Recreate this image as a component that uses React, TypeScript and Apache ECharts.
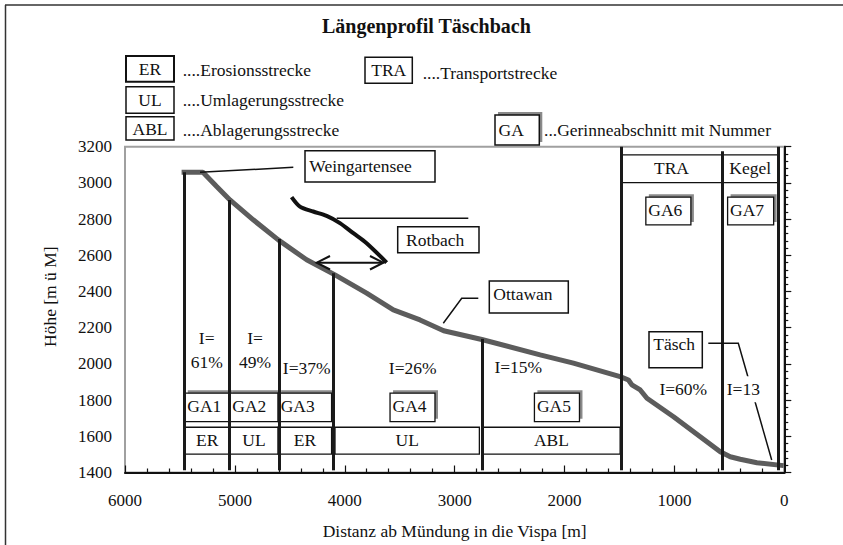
import React, { useEffect, useRef } from 'react';
import * as echarts from 'echarts';

// ---------- data ----------
const profileDist = [5485, 5291, 5166, 5045, 4833, 4605, 4347, 4089, 3801, 3558, 3315, 3100, 2753, 2222, 1919, 1494, 1418, 1387, 1311, 1250, 1008, 583, 492, 401, 249, 6];
const profileHeight = [3059, 3059, 2980, 2906, 2796, 2685, 2575, 2492, 2391, 2298, 2243, 2183, 2135, 2050, 2004, 1930, 1911, 1884, 1856, 1810, 1708, 1515, 1487, 1473, 1454, 1438];

const rotbachDist = [4484, 4408, 4287, 4165, 4044, 3922, 3801, 3619];
const rotbachHeight = [2921, 2869, 2842, 2818, 2778, 2722, 2667, 2560];

const sectionDist = [5462, 5055, 4599, 4105, 2753, 1485, 568, 52];
const sectionTop = [3059, 2906, 2690, 2501, 2138, 3200, 3175, 3200];
const sectionBottom = 1412;

const gaLabels = ['GA1', 'GA2', 'GA3', 'GA4', 'GA5', 'GA6', 'GA7'];
const gaFrom = [5456, 5046, 4606, 3588, 2274, 1260, 516];
const gaTo = [5046, 4606, 4120, 3179, 1864, 850, 97];
const gaTop = [1838, 1838, 1838, 1838, 1838, 2921, 2921];
const gaBottom = [1681, 1681, 1681, 1681, 1681, 2768, 2768];

const typeLabels = ['ER', 'UL', 'ER', 'UL', 'ABL', 'TRA', 'Kegel'];
const typeFrom = [5456, 5046, 4606, 4089, 2744, 1485, 568];
const typeTo = [5046, 4606, 4120, 2775, 1494, 568, 52];
const typeTop = [1650, 1650, 1650, 1650, 1650, 3155, 3155];
const typeBottom = [1502, 1502, 1502, 1502, 1502, 3002, 3002];

const xTicks = [0, 1000, 2000, 3000, 4000, 5000, 6000];
const yTicks = [1400, 1600, 1800, 2000, 2200, 2400, 2600, 2800, 3000, 3200];

const slopeLabels = ['I=\n61%', 'I=\n49%', 'I=37%', 'I=26%', 'I=15%', 'I=60%', 'I=13'];

// ---------- styles ----------
const FONT = "'Liberation Serif', 'Times New Roman', serif";
const FS = 17.5;
const INK = '#111';

function txt(x: number, y: number, text: string, align = 'left', extra: any = {}) {
  return {
    type: 'text',
    x,
    y,
    z: 100,
    style: {
      text,
      fill: INK,
      fontSize: FS,
      fontFamily: FONT,
      textAlign: align,
      align,
      textVerticalAlign: 'middle',
      verticalAlign: 'middle',
      ...extra,
    },
  };
}
function box(x: number, y: number, w: number, h: number, lw = 1.5) {
  return {
    type: 'rect',
    z: 90,
    shape: { x, y, width: w, height: h },
    style: { fill: '#fff', stroke: INK, lineWidth: lw },
  };
}
function seg(points: number[][], lw = 1.5, color = INK) {
  return {
    type: 'polyline',
    z: 95,
    shape: { points },
    style: { stroke: color, lineWidth: lw, fill: 'none' },
  };
}

export default function App() {
  const ref = useRef<HTMLDivElement>(null);
  useEffect(() => {
    if (!ref.current) return;
    const chart = echarts.init(ref.current, null, { renderer: 'svg' });

    const boxItems: any[] = [];
    const boxMeta: { label: string; ga: boolean }[] = [];
    gaLabels.forEach((l, i) => {
      boxItems.push([gaFrom[i], gaTo[i], gaTop[i], gaBottom[i]]);
      boxMeta.push({ label: l, ga: true });
    });
    typeLabels.forEach((l, i) => {
      boxItems.push([typeFrom[i], typeTo[i], typeTop[i], typeBottom[i]]);
      boxMeta.push({ label: l, ga: false });
    });

    const graphic: any[] = [
      // outer frame
      seg([[5, 5], [843, 5]], 1.5, '#333'),
      seg([[5.5, 5], [5.5, 545]], 1.5, '#333'),
      // legend
      box(126, 56, 48, 25.7, 2), txt(150, 69, 'ER', 'center'),
      txt(182.7, 70, '....Erosionsstrecke'),
      box(126, 86.7, 48, 26.6), txt(150, 99.5, 'UL', 'center'),
      txt(182.7, 100, '....Umlagerungsstrecke'),
      box(126, 116.7, 48, 23.3), txt(150, 128.5, 'ABL', 'center'),
      txt(182.7, 130, '....Ablagerungsstrecke'),
      box(365, 57.3, 47.3, 26), txt(388.7, 69.5, 'TRA', 'center'),
      txt(422.7, 72.7, '....Transportstrecke'),
      { type: 'rect', z: 89, shape: { x: 498, y: 112, width: 44.3, height: 30 }, style: { fill: '#8a8a8a' } },
      box(495, 115, 44.3, 30), txt(498.5, 130, 'GA'),
      txt(544, 130, '...Gerinneabschnitt mit Nummer'),
      // y axis name
      {
        type: 'text',
        x: 50,
        y: 296.7,
        rotation: Math.PI / 2,
        z: 100,
        style: {
          text: 'Höhe [m ü M]', fill: INK, fontSize: FS, fontFamily: FONT,
          textAlign: 'center', align: 'center', textVerticalAlign: 'middle', verticalAlign: 'middle',
        },
      },
      // Weingartensee callout
      seg([[200, 172.3], [293.3, 167.3]]),
      box(305, 150.7, 130, 31.3), txt(309.3, 166, 'Weingartensee'),
      // Rotbach callout
      seg([[336.7, 218.3], [468.3, 218.3]]),
      box(397.7, 226.7, 81.3, 26), txt(406, 240, 'Rotbach'),
      // double arrow
      seg([[316.7, 262.7], [383.3, 262.7]], 2),
      seg([[330, 256], [316.7, 262.7], [330, 269.5]], 2),
      seg([[370, 256], [383.3, 262.7], [370, 269.5]], 2),
      // Ottawan callout
      seg([[478.3, 298.3], [461.7, 298.3], [443.3, 323.3]]),
      box(489.3, 281, 79, 32), txt(493.3, 293.5, 'Ottawan'),
      // Täsch callout
      seg([[708.3, 343.3], [738.3, 343.3], [771.7, 460]]),
      box(649, 331.7, 53.3, 36), txt(653.3, 344, 'Täsch'),
      // slope labels
      txt(206.7, 350, slopeLabels[0], 'center', { lineHeight: 24 }),
      txt(255, 350, slopeLabels[1], 'center', { lineHeight: 24 }),
      txt(306.7, 367.7, slopeLabels[2], 'center'),
      txt(412.7, 367.7, slopeLabels[3], 'center'),
      txt(518.3, 366.7, slopeLabels[4], 'center'),
      txt(683.3, 389.3, slopeLabels[5], 'center'),
      txt(743.3, 389.3, slopeLabels[6], 'center', { backgroundColor: '#fff', padding: [4, 2, 4, 2] }),
    ];

    const axisCommon = {
      axisLine: { show: true, lineStyle: { color: INK, width: 2 } },
      axisTick: { show: true, inside: true, length: 7, lineStyle: { color: INK, width: 1.2 } },
      minorTick: { show: true, splitNumber: 5, length: 4, lineStyle: { color: INK, width: 1.2 } },
      splitLine: { show: false },
      minorSplitLine: { show: false },
    };

    chart.setOption({
      animation: false,
      backgroundColor: '#fff',
      textStyle: { fontFamily: FONT },
      title: {
        text: 'Längenprofil Täschbach',
        left: 322,
        top: 16,
        padding: 0,
        textStyle: { fontFamily: FONT, fontSize: 20, fontWeight: 'bold', color: INK },
      },
      grid: {
        left: 125,
        right: 58.7,
        top: 146.7,
        bottom: 72.5,
        show: true,
        borderColor: '#a0a0a0',
        borderWidth: 2,
        backgroundColor: 'transparent',
        containLabel: false,
        outerBoundsMode: 'none',
      },
      xAxis: {
        type: 'value',
        min: xTicks[0],
        max: xTicks[xTicks.length - 1],
        interval: 1000,
        inverse: true,
        name: 'Distanz ab Mündung in die Vispa [m]',
        nameLocation: 'middle',
        nameGap: 49,
        nameTextStyle: { fontFamily: FONT, fontSize: FS, color: INK },
        axisLabel: {
          fontFamily: FONT, fontSize: 17, color: INK, margin: 19, showMinLabel: true, showMaxLabel: true,
          formatter: (v: number) => String(v),
        },
        ...axisCommon,
      },
      yAxis: {
        type: 'value',
        min: yTicks[0],
        max: yTicks[yTicks.length - 1],
        interval: 200,
        axisLabel: {
          fontFamily: FONT, fontSize: 17, color: INK, margin: 13, showMinLabel: true, showMaxLabel: true,
          formatter: (v: number) => String(v),
        },
        ...axisCommon,
      },
      graphic,
      series: [
        {
          type: 'custom',
          name: 'Abschnitte',
          z: 2,
          encode: { x: [0, 1], y: [2, 3] },
          data: boxItems,
          renderItem: (params: any, api: any) => {
            const p1 = api.coord([api.value(0), api.value(2)]);
            const p2 = api.coord([api.value(1), api.value(3)]);
            const x = Math.min(p1[0], p2[0]);
            const y = Math.min(p1[1], p2[1]);
            const w = Math.abs(p2[0] - p1[0]);
            const h = Math.abs(p2[1] - p1[1]);
            const meta = boxMeta[params.dataIndex];
            const children: any[] = [];
            if (meta.ga) {
              children.push({ type: 'rect', shape: { x: x + 3, y: y - 3, width: w, height: h }, style: { fill: '#8a8a8a' } });
            }
            children.push({ type: 'rect', shape: { x, y, width: w, height: h }, style: { fill: '#fff', stroke: INK, lineWidth: 1.3 } });
            const tx = meta.ga ? x + 2.5 : x + w / 2;
            children.push({
              type: 'text',
              style: {
                text: meta.label, x: tx, y: y + h / 2 - 1, fill: INK, fontSize: FS, fontFamily: FONT,
                textAlign: meta.ga ? 'left' : 'center', align: meta.ga ? 'left' : 'center',
                textVerticalAlign: 'middle', verticalAlign: 'middle',
              },
            });
            return { type: 'group', children };
          },
        },
        {
          type: 'line',
          name: 'Täschbach',
          z: 3,
          data: profileDist.map((d, i) => [d, profileHeight[i]]),
          symbol: 'none',
          lineStyle: { color: '#5c5c5c', width: 5 },
        },
        {
          type: 'line',
          name: 'Rotbach',
          z: 3,
          data: rotbachDist.map((d, i) => [d, rotbachHeight[i]]),
          symbol: 'none',
          smooth: 0.3,
          lineStyle: { color: '#111', width: 4 },
        },
        {
          type: 'lines',
          name: 'Grenzen',
          coordinateSystem: 'cartesian2d',
          z: 4,
          data: sectionDist.map((d, i) => ({ coords: [[d, sectionBottom], [d, sectionTop[i]]] })),
          lineStyle: { color: '#1a1a1a', width: 3, opacity: 1 },
        },
      ],
    });
    return () => chart.dispose();
  }, []);
  return (
    <div
      ref={ref}
      style={{ position: 'absolute', left: 0, top: 0, width: 843, height: 545, background: '#fff' }}
    />
  );
}
